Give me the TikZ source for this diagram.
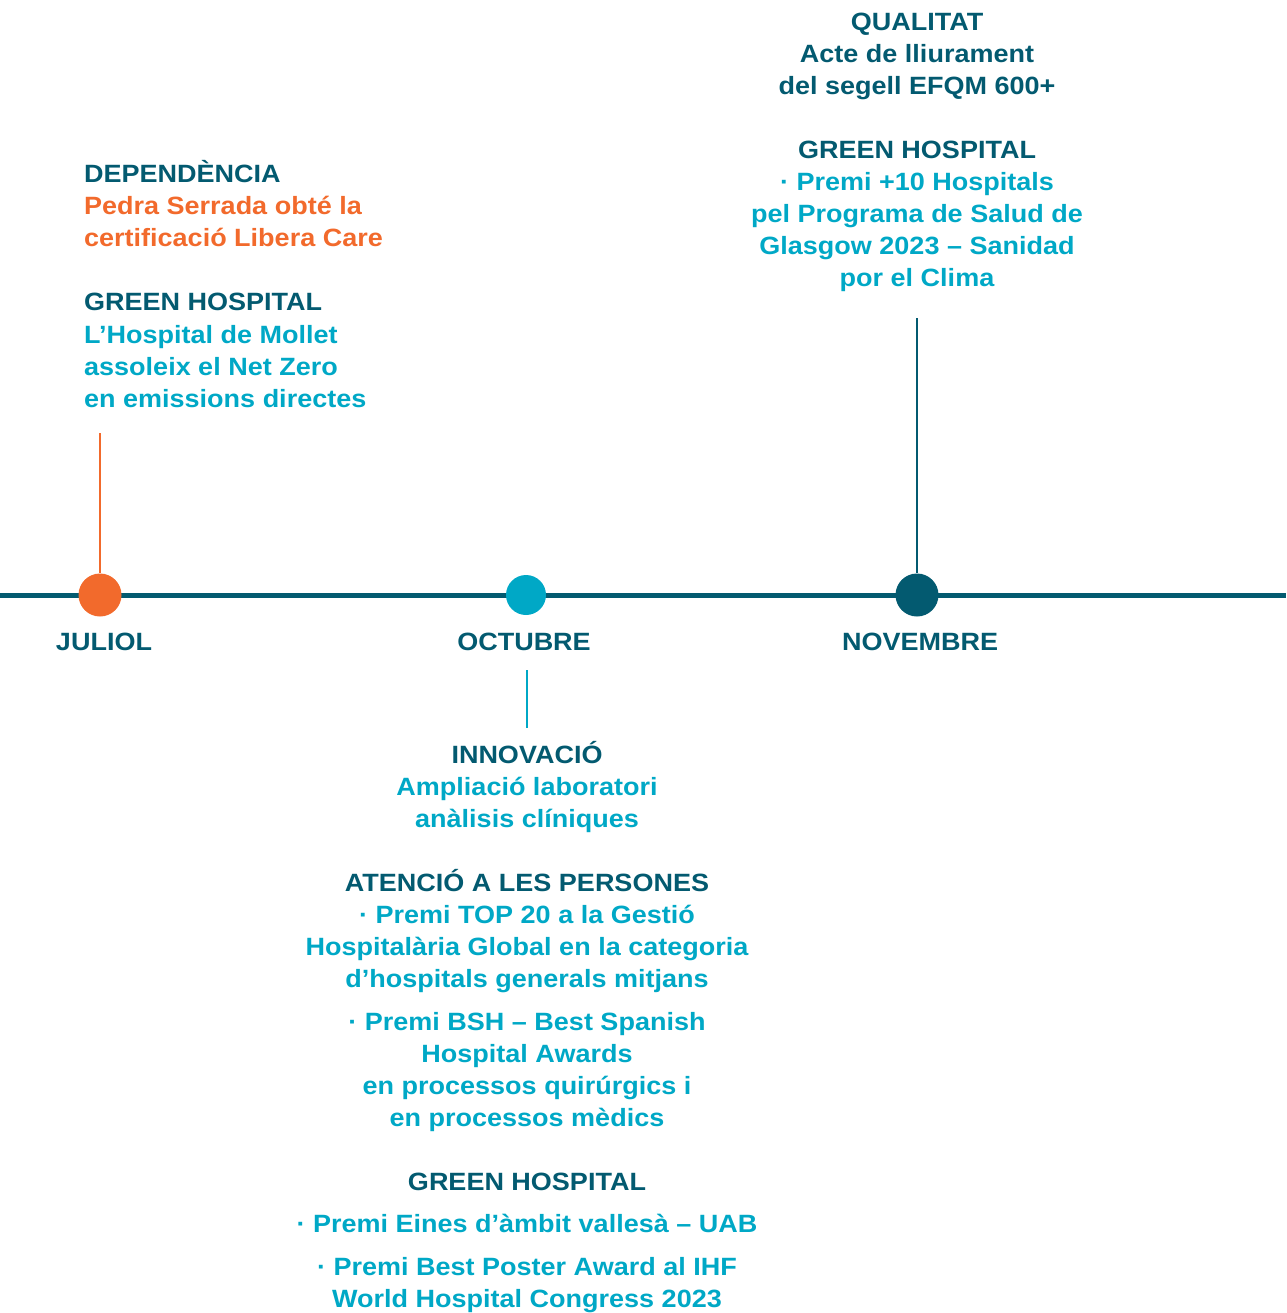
\documentclass[tikz,border=0pt]{standalone}
\usepackage{fontspec}
\setmainfont[FakeStretch=1.08]{Liberation Sans}
\definecolor{dk}{HTML}{035A70}
\definecolor{orng}{HTML}{F26A2C}
\definecolor{cyn}{HTML}{00A8C6}
\tikzset{
  txt/.style={inner sep=0pt, font=\bfseries\fontsize{25}{32}\selectfont},
  hd/.style={txt, text=dk},
  og/.style={txt, text=orng},
  cy/.style={txt, text=cyn},
  lw/.style={txt, anchor=base west},
  lc/.style={txt, anchor=base},
  dotc/.style={circle, inner sep=0pt, minimum size=#1},
  stem/.style={line width=2.5pt},
}
\begin{document}
\begin{tikzpicture}[x=1pt,y=-1pt]
\useasboundingbox (0,0) rectangle (1286,1313);
% timeline
\coordinate (tl) at (0,595);
\coordinate (tr) at (1286,595);
\draw[dk, line width=5pt] (tl) -- (tr);
% dots
\node[dotc=43pt, fill=orng] (jdot) at (100,595) {};
\node[dotc=40pt, fill=cyn] (odot) at (526,595) {};
\node[dotc=43pt, fill=dk] (ndot) at (917,595) {};
% stems
\coordinate (jtop) at (100,433);
\coordinate (ntop) at (917,318);
\coordinate (otop) at (527,670);
\coordinate (obot) at (527,728);
\draw[orng, stem] (jtop) -- (jdot.north);
\draw[dk, stem] (ntop) -- (ndot.north);
\draw[cyn, stem] (otop) -- (obot);
% months
\node[hd, lc] (mjul) at (104,650) {JULIOL};
\node[hd, lc] (moct) at (524,650) {OCTUBRE};
\node[hd, lc] (mnov) at (920,650) {NOVEMBRE};
% left block
\node[hd, lw] (l1) at (84,183) {DEPENDÈNCIA};
\node[og, lw] (l2) at (84,215) {Pedra Serrada obté la};
\node[og, lw] (l3) at (84,247) {certificació Libera Care};
\node[hd, lw] (l4) at (84,311) {GREEN HOSPITAL};
\node[cy, lw] (l5) at (84,343) {L’Hospital de Mollet};
\node[cy, lw] (l6) at (84,375) {assoleix el Net Zero};
\node[cy, lw] (l7) at (84,407) {en emissions directes};
% right block
\node[hd, lc] (r1) at (917,31) {QUALITAT};
\node[hd, lc] (r2) at (917,63) {Acte de lliurament};
\node[hd, lc] (r3) at (917,95) {del segell EFQM 600+};
\node[hd, lc] (r4) at (917,159) {GREEN HOSPITAL};
\node[cy, lc] (r5) at (917,191) {· Premi +10 Hospitals};
\node[cy, lc] (r6) at (917,223) {pel Programa de Salud de};
\node[cy, lc] (r7) at (917,255) {Glasgow 2023 – Sanidad};
\node[cy, lc] (r8) at (917,287) {por el Clima};
% bottom block
\node[hd, lc] (b1) at (527,763) {INNOVACIÓ};
\node[cy, lc] (b2) at (527,795) {Ampliació laboratori};
\node[cy, lc] (b3) at (527,827) {anàlisis clíniques};
\node[hd, lc] (b4) at (527,891) {ATENCIÓ A LES PERSONES};
\node[cy, lc] (b5) at (527,923) {· Premi TOP 20 a la Gestió};
\node[cy, lc] (b6) at (527,955) {Hospitalària Global en la categoria};
\node[cy, lc] (b7) at (527,987) {d’hospitals generals mitjans};
\node[cy, lc] (b8) at (527,1030) {· Premi BSH – Best Spanish};
\node[cy, lc] (b9) at (527,1062) {Hospital Awards};
\node[cy, lc] (b10) at (527,1094) {en processos quirúrgics i};
\node[cy, lc] (b11) at (527,1126) {en processos mèdics};
\node[hd, lc] (b12) at (527,1190) {GREEN HOSPITAL};
\node[cy, lc] (b13) at (527,1232) {· Premi Eines d’àmbit vallesà – UAB};
\node[cy, lc] (b14) at (527,1275) {· Premi Best Poster Award al IHF};
\node[cy, lc] (b15) at (527,1307) {World Hospital Congress 2023};
\end{tikzpicture}
\end{document}
